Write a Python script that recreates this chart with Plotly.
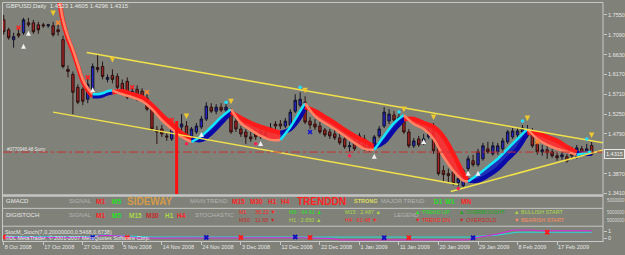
import plotly.graph_objects as go

# ---------------- data ----------------
bars = list(range(120))
open_ = [
1.7435, 1.7205, 1.6975, 1.7113, 1.7136, 1.7366, 1.7366, 1.7320, 1.7320, 1.7297,
1.7297, 1.7205, 1.6975, 1.6285, 1.6170, 1.5871, 1.5825, 1.5595, 1.5779, 1.6331,
1.6354, 1.6055, 1.6147, 1.6124, 1.5963, 1.6009, 1.5710, 1.5825, 1.5779, 1.5618,
1.5365, 1.4882, 1.4905, 1.4744, 1.4675, 1.4951, 1.4951, 1.4974, 1.4721, 1.4836,
1.4951, 1.5135, 1.5411, 1.5319, 1.5411, 1.5342, 1.5250, 1.5089, 1.4905, 1.4836,
1.4721, 1.4813, 1.4721, 1.4744, 1.4882, 1.5020, 1.5020, 1.4974, 1.4997, 1.5319,
1.5457, 1.5526, 1.5089, 1.5020, 1.4974, 1.4882, 1.4836, 1.4790, 1.4698, 1.4675,
1.4491, 1.4606, 1.4606, 1.4675, 1.4445, 1.4560, 1.4744, 1.4974, 1.5089, 1.5227,
1.5135, 1.5158, 1.4836, 1.4514, 1.4675, 1.4583, 1.4721, 1.4951, 1.4514, 1.3939,
1.3870, 1.3916, 1.3663, 1.3594, 1.3985, 1.4169, 1.4077, 1.4215, 1.4445, 1.4330,
1.4376, 1.4445, 1.4606, 1.4721, 1.4767, 1.4836, 1.4744, 1.4836, 1.4606, 1.4376,
1.4422, 1.4376, 1.4284, 1.4261, 1.4261, 1.4422, 1.4261, 1.4445, 1.4330, 1.4523]
high_ = [
1.7550, 1.7251, 1.7136, 1.7205, 1.7481, 1.7481, 1.7435, 1.7389, 1.7366, 1.7343,
1.7389, 1.7320, 1.7067, 1.6377, 1.6239, 1.5940, 1.5871, 1.6055, 1.6423, 1.6630,
1.6469, 1.6170, 1.6285, 1.6193, 1.6055, 1.6101, 1.5871, 1.5917, 1.5848, 1.5710,
1.5457, 1.4974, 1.4997, 1.4813, 1.5066, 1.5043, 1.5250, 1.5089, 1.4951, 1.5043,
1.5204, 1.5526, 1.5503, 1.5480, 1.5503, 1.5480, 1.5388, 1.5181, 1.4974, 1.4905,
1.4836, 1.4882, 1.4951, 1.4905, 1.5043, 1.5089, 1.5112, 1.5158, 1.5365, 1.5710,
1.5756, 1.5664, 1.5181, 1.5135, 1.5066, 1.4928, 1.4905, 1.4882, 1.4790, 1.4744,
1.4606, 1.4675, 1.4813, 1.4767, 1.4560, 1.4767, 1.4974, 1.5411, 1.5365, 1.5319,
1.5273, 1.5227, 1.4905, 1.4698, 1.4744, 1.4790, 1.4951, 1.5043, 1.4560, 1.4054,
1.3985, 1.3985, 1.3847, 1.3985, 1.4284, 1.4307, 1.4445, 1.4583, 1.4606, 1.4606,
1.4583, 1.4698, 1.4882, 1.4928, 1.4951, 1.4997, 1.4997, 1.4928, 1.4675, 1.4537,
1.4560, 1.4445, 1.4353, 1.4376, 1.4330, 1.4491, 1.4537, 1.4514, 1.4560, 1.4605]
low_ = [
1.7090, 1.6975, 1.6791, 1.7021, 1.7090, 1.7274, 1.7113, 1.7113, 1.7251, 1.7251,
1.7044, 1.7067, 1.6308, 1.6101, 1.5250, 1.5480, 1.5457, 1.5503, 1.5710, 1.6216,
1.6055, 1.5986, 1.5963, 1.5825, 1.5687, 1.5595, 1.5618, 1.5549, 1.5572, 1.5319,
1.4859, 1.4560, 1.4721, 1.4629, 1.4629, 1.4606, 1.4836, 1.4675, 1.4652, 1.4790,
1.4905, 1.5089, 1.5273, 1.5250, 1.5296, 1.5273, 1.4790, 1.4836, 1.4721, 1.4560,
1.4606, 1.4652, 1.4675, 1.4698, 1.4813, 1.4905, 1.4905, 1.4928, 1.4951, 1.5273,
1.5411, 1.5020, 1.4905, 1.4882, 1.4790, 1.4721, 1.4675, 1.4652, 1.4537, 1.4445,
1.4376, 1.4399, 1.4537, 1.4399, 1.4376, 1.4491, 1.4698, 1.4928, 1.5020, 1.5043,
1.5043, 1.4790, 1.4468, 1.4468, 1.4491, 1.4537, 1.4675, 1.4330, 1.3824, 1.3686,
1.3663, 1.3594, 1.3571, 1.3548, 1.3916, 1.4031, 1.4031, 1.4169, 1.4330, 1.4284,
1.4307, 1.4399, 1.4560, 1.4675, 1.4698, 1.4790, 1.4698, 1.4468, 1.4307, 1.4284,
1.4215, 1.4238, 1.4169, 1.4192, 1.4123, 1.4215, 1.4215, 1.4284, 1.4284, 1.4296]
close_ = [
1.7159, 1.7021, 1.7044, 1.7067, 1.7435, 1.7320, 1.7159, 1.7205, 1.7297, 1.7320,
1.7090, 1.7159, 1.6354, 1.6239, 1.5756, 1.5526, 1.5549, 1.5940, 1.6354, 1.6285,
1.6124, 1.6101, 1.6055, 1.5871, 1.5756, 1.5641, 1.5779, 1.5595, 1.5618, 1.5365,
1.4905, 1.4836, 1.4790, 1.4721, 1.5020, 1.4905, 1.5020, 1.4744, 1.4905, 1.4974,
1.5135, 1.5434, 1.5319, 1.5411, 1.5342, 1.5411, 1.4836, 1.4905, 1.4790, 1.4721,
1.4675, 1.4721, 1.4859, 1.4836, 1.4928, 1.4974, 1.4974, 1.5089, 1.5296, 1.5572,
1.5595, 1.5066, 1.4997, 1.4951, 1.4836, 1.4767, 1.4744, 1.4698, 1.4583, 1.4491,
1.4514, 1.4445, 1.4744, 1.4445, 1.4491, 1.4721, 1.4905, 1.5296, 1.5250, 1.5112,
1.5181, 1.4836, 1.4514, 1.4629, 1.4537, 1.4675, 1.4790, 1.4399, 1.3870, 1.3847,
1.3824, 1.3640, 1.3755, 1.3939, 1.4215, 1.4077, 1.4376, 1.4514, 1.4376, 1.4514,
1.4514, 1.4629, 1.4836, 1.4859, 1.4859, 1.4928, 1.4905, 1.4514, 1.4376, 1.4422,
1.4353, 1.4284, 1.4238, 1.4307, 1.4169, 1.4284, 1.4468, 1.4330, 1.4445, 1.4315]

# smoothed trend ribbon (fast / slow lines) at knot bars
ribbon_bars = [11, 12, 13, 14, 15, 16, 17, 18, 19, 20, 21, 22, 24, 26, 28, 30, 32, 34, 36, 38,
               40, 42, 44, 46, 48, 50, 52, 54, 56, 58, 60, 61, 63, 65, 67, 69, 71, 73, 75, 77,
               79, 81, 83, 85, 87, 89, 91, 93, 94, 96, 98, 100, 102, 104, 106, 108, 110, 112,
               114, 116, 117, 118, 119]
ribbon_fast = [1.8125, 1.7435, 1.7044, 1.6745, 1.6400, 1.6055, 1.5848, 1.5710, 1.5710, 1.5733,
               1.5779, 1.5802, 1.5710, 1.5641, 1.5549, 1.5365, 1.5112, 1.4905, 1.4721, 1.4606,
               1.4744, 1.4951, 1.5181, 1.5365, 1.5043, 1.4882, 1.4744, 1.4652, 1.4652, 1.4951,
               1.5319, 1.5503, 1.5204, 1.5043, 1.4905, 1.4744, 1.4583, 1.4445, 1.4422, 1.4744,
               1.5043, 1.5227, 1.5020, 1.4905, 1.4675, 1.4261, 1.3939, 1.3709, 1.3686, 1.3847,
               1.4031, 1.4215, 1.4445, 1.4675, 1.4905, 1.4675, 1.4537, 1.4445, 1.4376, 1.4307,
               1.4330, 1.4353, 1.4376]
ribbon_slow = [1.8079, 1.7389, 1.6998, 1.6699, 1.6354, 1.6009, 1.5802, 1.5664, 1.5664, 1.5687,
               1.5733, 1.5756, 1.5779, 1.5710, 1.5641, 1.5457, 1.5227, 1.5020, 1.4813, 1.4675,
               1.4652, 1.4813, 1.5043, 1.5296, 1.5158, 1.5043, 1.4951, 1.4882, 1.4813, 1.4905,
               1.5181, 1.5411, 1.5319, 1.5181, 1.5043, 1.4882, 1.4744, 1.4629, 1.4491, 1.4606,
               1.4882, 1.5135, 1.5135, 1.5043, 1.4951, 1.4721, 1.4330, 1.3870, 1.3709, 1.3709,
               1.3824, 1.3985, 1.4215, 1.4445, 1.4813, 1.4813, 1.4721, 1.4629, 1.4491, 1.4353,
               1.4330, 1.4330, 1.4330]
regime_start = [11, 18, 22, 38, 46, 56, 61, 75, 81, 94, 106, 116]
regime_end = [18, 22, 38, 46, 56, 61, 75, 81, 94, 106, 116, 119]
regime_trend = ['dn', 'up', 'dn', 'up', 'dn', 'up', 'dn', 'up', 'dn', 'up', 'dn', 'up']

# trend lines (bar, price)
chan_upper_bars = [16.8, 121.5]
chan_upper_prices = [1.6676, 1.4583]
chan_lower_bars = [10.0, 92.0]
chan_lower_prices = [1.5296, 1.3617]
chan_rise_bars = [90.5, 121.5]
chan_rise_prices = [1.3456, 1.4422]
level_price = 1.4370
spike_bar = 35
spike_top = 1.5089

# signal arrows / markers
fractal_bars = [10, 22, 37, 46, 61, 81, 87, 106, 119]
fractal_prices = [1.7527, 1.6446, 1.5135, 1.5480, 1.5733, 1.5296, 1.5112, 1.5089, 1.4698]
white_bars = [4, 5, 18, 40, 52, 75, 85, 94, 96]
white_prices = [1.6883, 1.7182, 1.5871, 1.4836, 1.4629, 1.4330, 1.4675, 1.3939, 1.3939]
orange_bars = [11, 29, 108]
orange_prices = [1.7366, 1.5756, 1.4606]
redx_bars = [3, 17, 26, 34]
redx_prices = [1.7251, 1.6101, 1.5871, 1.5112]
reddot_bars = [37, 51, 70, 92]
reddot_prices = [1.4560, 1.4560, 1.4284, 1.3525]
cyan_bars = [45, 60, 80, 105, 118]
cyan_prices = [1.5526, 1.5871, 1.5296, 1.5089, 1.4675]
bluex_bars = [62]
bluex_prices = [1.4836]

# stochastic panel
stoch_main_bars = [0, 10, 17, 20, 24, 27, 40, 41, 60, 66, 68, 94, 96, 100, 103, 107, 108, 119]
stoch_main = [0.10, 0.05, 0.10, 0.40, 0.30, 0.00, 0.00, 0.10, 0.05, -0.05, -0.25, -0.25, 0.10, 0.60, 1.15, 1.15, 1.05, 1.05]
stoch_sig_bars = [0, 17, 20, 25, 30, 94, 96, 98, 100, 102, 104, 119]
stoch_sig = [0.20, 0.20, 0.45, 0.25, 0.15, 0.15, 0.25, 0.30, 0.45, 0.65, 0.85, 0.85]
stoch_bluex_bars = [18, 41, 59, 77, 95]
stoch_bluex = [0.10, 0.10, 0.15, 0.05, 0.05]
stoch_redx_bars = [0, 25, 48, 62, 82, 110]
stoch_redx = [0.15, 0.10, 0.10, 0.10, 0.05, 0.85]

# axes
date_tick_bars = [0, 8, 16, 24, 32, 40, 48, 56, 64, 72, 80, 88, 96, 104, 112]
date_tick_text = ["8 Oct 2008", "17 Oct 2008", "27 Oct 2008", "5 Nov 2008", "14 Nov 2008",
                  "24 Nov 2008", "3 Dec 2008", "12 Dec 2008", "22 Dec 2008", "1 Jan 2009",
                  "11 Jan 2009", "20 Jan 2009", "29 Jan 2009", "8 Feb 2009", "17 Feb 2009"]
price_ticks = [1.7550, 1.7090, 1.6630, 1.6170, 1.5710, 1.5250, 1.4790, 1.3870, 1.3410]
last_price = 1.4315
header = "GBPUSD,Daily  1.4523 1.4605 1.4296 1.4315"

# ---------------- layout helpers ----------------
W, H = 625, 255
BG = '#808279'
FRAME = '#c8c8c8'
FONT = 'Liberation Sans, Arial, sans-serif'


def py(p):
    return 1 - p / H


X_RANGE = [-0.15, 121.3]
Y_MAIN = [1.3387, 1.7826]

fig = go.Figure()

# ribbons (drawn under candles)
styles = {
    'up': dict(slow='#0a0aa8', fast='#14e6ff', fill='rgba(20,40,190,0.9)'),
    'dn': dict(slow='#ff1a1a', fast='#ff8466', fill='rgba(255,45,45,0.9)'),
}
for s, e, d in zip(regime_start, regime_end, regime_trend):
    sel = [k for k, b in enumerate(ribbon_bars) if s <= b <= e]
    xb = [ribbon_bars[k] for k in sel]
    st = styles[d]
    fig.add_trace(go.Scatter(x=xb, y=[ribbon_slow[k] for k in sel], mode='lines',
                             line=dict(color=st['slow'], width=4.5, shape='spline'),
                             hoverinfo='skip'))
    fig.add_trace(go.Scatter(x=xb, y=[ribbon_fast[k] for k in sel], mode='lines',
                             line=dict(color=st['fast'], width=2.5, shape='spline'),
                             fill='tonexty', fillcolor=st['fill'], hoverinfo='skip'))

# trend lines
for bx, pr in [(chan_upper_bars, chan_upper_prices), (chan_lower_bars, chan_lower_prices),
               (chan_rise_bars, chan_rise_prices)]:
    fig.add_trace(go.Scatter(x=bx, y=pr, mode='lines', line=dict(color='#f2e24a', width=1.5),
                             hoverinfo='skip'))

# level line
fig.add_trace(go.Scatter(x=X_RANGE, y=[level_price, level_price], mode='lines',
                         line=dict(color='#c83030', width=1, dash='dashdot'), hoverinfo='skip'))
# spike
fig.add_trace(go.Scatter(x=[spike_bar, spike_bar], y=[spike_top, Y_MAIN[0]], mode='lines',
                         line=dict(color='#ff1010', width=3), hoverinfo='skip'))


# markers
def mk(xs, ys, sym, col, size, lw=0, lc=None):
    fig.add_trace(go.Scatter(x=xs, y=ys, mode='markers', hoverinfo='skip',
                             marker=dict(symbol=sym, color=col, size=size,
                                         line=dict(width=lw, color=lc or col))))


mk(fractal_bars, fractal_prices, 'arrow-down', '#eec830', 5.5)
mk(white_bars, white_prices, 'arrow-up', '#f0f0f0', 5)
mk(orange_bars, orange_prices, 'x-thin', '#ff8a30', 4, 1.5)
mk(redx_bars, redx_prices, 'x-thin', '#ff2020', 4, 1.5)
mk(reddot_bars, reddot_prices, 'circle', '#ff2050', 3.5)
mk(cyan_bars, cyan_prices, 'circle', '#20e0ff', 3.5)
mk(bluex_bars, bluex_prices, 'x-thin', '#1010d0', 4, 1.5)

# candles
fig.add_trace(go.Candlestick(x=bars, open=open_, high=high_, low=low_, close=close_,
                             increasing=dict(line=dict(color='#141428', width=1), fillcolor='#2424c8'),
                             decreasing=dict(line=dict(color='#2a1212', width=1), fillcolor='#a02222'),
                             whiskerwidth=0, hoverinfo='skip', xaxis='x', yaxis='y'))

# stochastic panel
fig.add_trace(go.Scatter(x=stoch_sig_bars, y=stoch_sig, mode='lines', yaxis='y3',
                         line=dict(color='#20e0e0', width=1), hoverinfo='skip'))
fig.add_trace(go.Scatter(x=stoch_main_bars, y=stoch_main, mode='lines', yaxis='y3',
                         line=dict(color='#e020e0', width=1), hoverinfo='skip'))
fig.add_trace(go.Scatter(x=stoch_bluex_bars, y=stoch_bluex, mode='markers', yaxis='y3', hoverinfo='skip',
                         marker=dict(symbol='x-thin', size=4, line=dict(width=2, color='#1010c0'))))
fig.add_trace(go.Scatter(x=stoch_redx_bars, y=stoch_redx, mode='markers', yaxis='y3', hoverinfo='skip',
                         marker=dict(symbol='x-thin', size=4, line=dict(width=2, color='#ff1a1a'))))

tickfont = dict(family=FONT, size=5.5, color='#e6e6e6')
fig.update_layout(
    width=W, height=H, margin=dict(l=0, r=0, t=0, b=0),
    paper_bgcolor=BG, plot_bgcolor=BG, showlegend=False, hovermode=False,
    xaxis=dict(domain=[3 / W, 603 / W], range=X_RANGE, anchor='y3', showgrid=False,
               zeroline=False, showline=True, linecolor=FRAME, linewidth=1,
               ticks='outside', ticklen=3, tickcolor=FRAME, tickvals=date_tick_bars,
               ticktext=date_tick_text, ticklabelposition='outside right', tickangle=0,
               tickfont=dict(family=FONT, size=5.5, color='#e6e6e6'),
               rangeslider=dict(visible=False)),
    yaxis=dict(domain=[py(196), py(3)], range=Y_MAIN, side='right', anchor='x',
               showgrid=False, zeroline=False, showline=False, ticks='outside', ticklen=3,
               tickcolor=FRAME, tickvals=price_ticks, ticktext=[f"{v:.4f}" for v in price_ticks],
               tickfont=tickfont),
    yaxis3=dict(domain=[py(243), py(229)], range=[-3 / 7, 11 / 7], side='right', anchor='x',
                showgrid=False, zeroline=False, showline=False, ticks='outside', ticklen=3,
                tickcolor=FRAME, tickvals=[0, 1], ticktext=['0', '1'], tickfont=tickfont),
)

# frame / separators
shapes = [
    dict(type='line', xref='paper', yref='paper', x0=603 / W, x1=603 / W, y0=py(244), y1=py(2.5),
         line=dict(color=FRAME, width=1)),
    dict(type='line', xref='paper', yref='paper', x0=2.5 / W, x1=2.5 / W, y0=py(244), y1=py(2.5),
         line=dict(color=FRAME, width=1)),
    dict(type='line', xref='paper', yref='paper', x0=2.5 / W, x1=603 / W, y0=py(2.5), y1=py(2.5),
         line=dict(color=FRAME, width=1)),
    dict(type='line', xref='paper', yref='paper', x0=2.5 / W, x1=603 / W, y0=py(197), y1=py(197),
         line=dict(color='#c4c4c4', width=2.5)),
    dict(type='line', xref='paper', yref='paper', x0=2.5 / W, x1=603 / W, y0=py(210), y1=py(210),
         line=dict(color='#c4c4c4', width=1)),
    dict(type='line', xref='paper', yref='paper', x0=2.5 / W, x1=603 / W, y0=py(228), y1=py(228),
         line=dict(color='#c4c4c4', width=1)),
]
fig.update_layout(shapes=shapes)

RED, GRN, YG, DRED, GRAY, WHT = '#ff2424', '#22e022', '#a8d848', '#c82828', '#b4b4b4', '#e8e8e8'
texts = [
    (header, 4, 6.5, WHT, 6, False),
    ("#0770948.48 Sorry", 5, 151, WHT, 4.5, False),
    ("GMACD", 4, 203, WHT, 6, False),
    ("SIGNAL", 67, 203, GRAY, 6, False),
    ("M1", 94, 203, RED, 6.5, True),
    ("M5", 110, 203, GRN, 6.5, True),
    ("SIDEWAY", 125, 203, '#d49a48', 10, True),
    ("MAIN TREND", 188, 203, GRAY, 6, False),
    ("M15", 230, 203, RED, 6.5, True),
    ("M30", 248, 203, RED, 6.5, True),
    ("H1", 266, 203, RED, 6.5, True),
    ("H4", 279, 203, RED, 6.5, True),
    ("TRENDDN", 295, 203, RED, 10, True),
    ("STRONG", 352, 203, '#dcdc60', 5.5, True),
    ("MAJOR TREND", 379, 203, GRAY, 6, False),
    ("D1", 432, 203, GRN, 6.5, True),
    ("W1", 443, 203, GRN, 6.5, True),
    ("MN", 459, 203, RED, 6.5, True),
    ("DIGISTOCH", 4, 217, WHT, 6, False),
    ("SIGNAL", 67, 217, GRAY, 6, False),
    ("M1", 94, 217, RED, 6.5, True),
    ("M5", 110, 217, GRN, 6.5, True),
    ("M15", 127, 217, YG, 6.5, True),
    ("M30", 144, 217, DRED, 6.5, True),
    ("H1", 163, 217, YG, 6.5, True),
    ("H4", 175, 217, RED, 6.5, True),
    ("STOCHASTIC", 193, 217, GRAY, 6, False),
    ("M1", 237, 214, RED, 5.5, False),
    ("35.22 ▼", 253, 214, RED, 5.5, False),
    ("M30", 237, 222, DRED, 5.5, False),
    ("11.65 ▼", 253, 222, DRED, 5.5, False),
    ("M5 : 44.91 ▲", 287, 214, GRN, 5.5, False),
    ("H1 : 2.650 ▲", 287, 222, YG, 5.5, False),
    ("M15 : 2.487 ▲", 343, 214, YG, 5.5, False),
    ("H4 : 61.48 ▼", 343, 222, RED, 5.5, False),
    ("LEGEND", 392, 217, GRAY, 6, False),
    ("▲ TREND UP", 413, 214, GRN, 5.5, False),
    ("▼ TREND DN", 413, 222, RED, 5.5, False),
    ("▲ OVERBOUGHT", 457, 214, '#18a818', 5.5, False),
    ("▼ OVERSOLD", 457, 222, DRED, 5.5, False),
    ("▲ BULLISH START", 512, 214, YG, 5.5, False),
    ("▼ BEARISH START", 512, 222, '#ff8a60', 5.5, False),
    ("StocM_Stoch(7,0,20000000,0.5468,0.6738)", 3, 234, WHT, 5.5, False),
    ("©DL MetaTrader, © 2001-2007 MetaQuotes Software Corp.", 3, 240, WHT, 5.5, False),
    ("5000000", 605, 202, '#d8d8d8', 4.5, False),
    ("5000000", 605, 214, '#d8d8d8', 4.5, False),
    ("5000000", 605, 222, '#d8d8d8', 4.5, False),
]
ann = []
for t, x, y, c, s, b in texts:
    ann.append(dict(text=f"<b>{t}</b>" if b else t, x=x / W, y=py(y), xref='paper', yref='paper',
                    xanchor='left', yanchor='middle', showarrow=False,
                    font=dict(family=FONT, size=s, color=c)))
# last price box
ann.append(dict(text=f"{last_price:.4f}", x=604 / W, y=last_price, xref='paper', yref='y',
                xanchor='left', yanchor='middle', showarrow=False, bordercolor='#e8e8e8',
                borderwidth=1, borderpad=1, bgcolor=BG,
                font=dict(family=FONT, size=5.5, color='#f0f0f0')))
fig.update_layout(annotations=ann)

fig.write_html("out.html")
